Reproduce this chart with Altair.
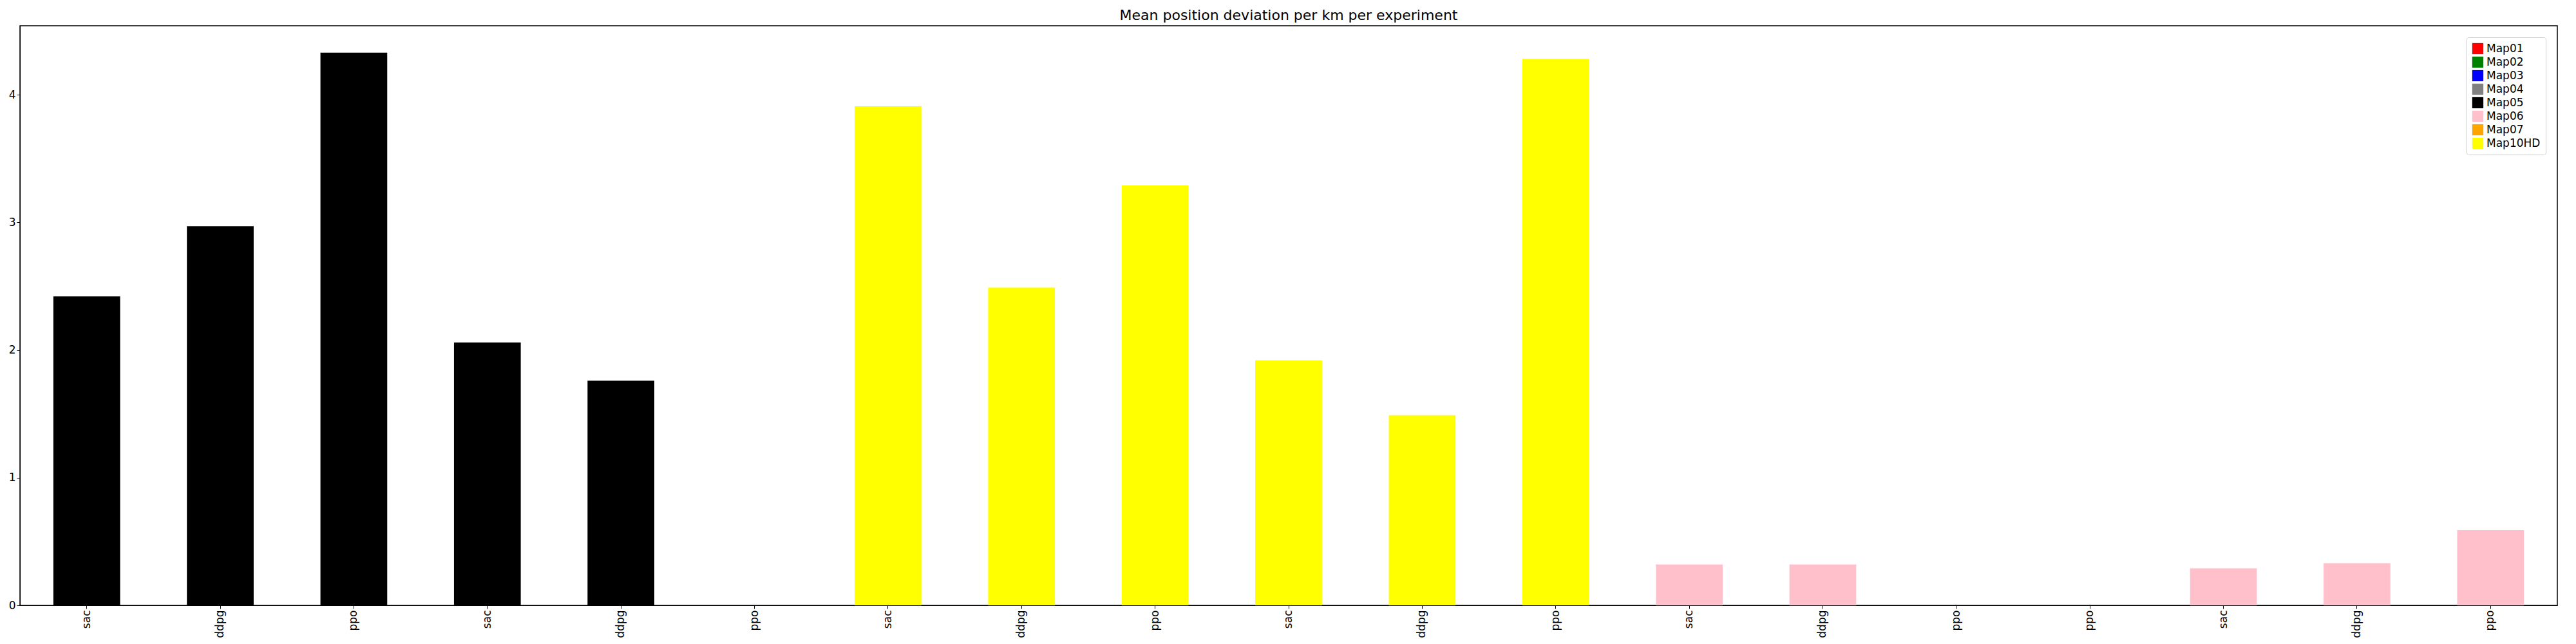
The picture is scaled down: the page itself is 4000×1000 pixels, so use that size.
import pandas as pd
import altair as alt

labels = ["sac", "ddpg", "ppo", "sac", "ddpg", "ppo", "sac", "ddpg", "ppo", "sac",
          "ddpg", "ppo", "sac", "ddpg", "ppo", "ppo", "sac", "ddpg", "ppo"]
maps = ["Map05"] * 6 + ["Map10HD"] * 6 + ["Map06"] * 7
values = [2.42, 2.97, 4.33, 2.06, 1.76, 0.0, 3.91, 2.49, 3.29, 1.92,
          1.49, 4.28, 0.32, 0.32, 0.0, 0.0, 0.29, 0.33, 0.59]
map_names = ["Map01", "Map02", "Map03", "Map04", "Map05", "Map06", "Map07", "Map10HD"]
map_colors = ["red", "green", "blue", "gray", "black", "pink", "orange", "yellow"]

df = pd.DataFrame({"idx": range(len(values)), "algo": labels, "Map": maps, "value": values})

label_expr = "[" + ",".join(f"'{l}'" for l in labels) + "][datum.value]"

chart = alt.Chart(df, title="Mean position deviation per km per experiment").mark_bar().encode(
    x=alt.X("idx:O", title=None,
            scale=alt.Scale(paddingInner=0.5, paddingOuter=0.25),
            axis=alt.Axis(labelExpr=label_expr, labelAngle=270, labelFontSize=17,
                          labelColor="black", tickColor="black", domainColor="black")),
    y=alt.Y("value:Q", title=None, scale=alt.Scale(domain=[0, 4.54], nice=False),
            axis=alt.Axis(values=[0, 1, 2, 3, 4], grid=False, labelFontSize=17,
                          labelColor="black", tickColor="black", domainColor="black")),
    color=alt.Color("Map:N", scale=alt.Scale(domain=map_names, range=map_colors),
                    legend=alt.Legend(title=None, orient="top-right", symbolType="square",
                                      labelFontSize=17, symbolSize=300, strokeColor="#ccc",
                                      padding=8, fillColor="white", cornerRadius=3)),
).properties(width=3940, height=900).configure_view(stroke="black", strokeWidth=1.5).configure_title(
    fontSize=22, fontWeight="normal", font="DejaVu Sans"
).configure_axis(labelFont="DejaVu Sans").configure_legend(labelFont="DejaVu Sans")

chart.save("out.html", embed_options={"renderer": "svg", "actions": False})
